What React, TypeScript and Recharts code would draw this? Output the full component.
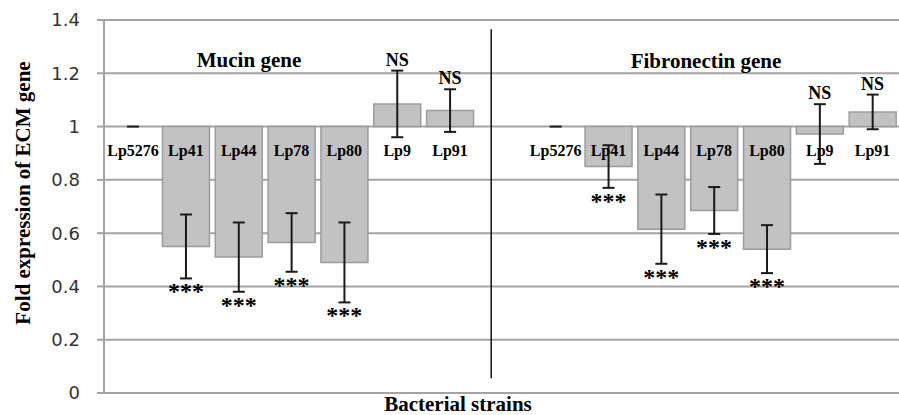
import {
  ComposedChart,
  Bar,
  ErrorBar,
  Scatter,
  XAxis,
  YAxis,
  CartesianGrid,
  ReferenceLine
} from 'recharts';

const strains = ['Lp5276', 'Lp41', 'Lp44', 'Lp78', 'Lp80', 'Lp9', 'Lp91'];
const mucinFold = [1, 0.55, 0.51, 0.565, 0.49, 1.085, 1.06];
const mucinErr = [0, 0.12, 0.13, 0.11, 0.15, 0.125, 0.08];
const mucinSig = ['', '***', '***', '***', '***', 'NS', 'NS'];
const fibroFold = [1, 0.85, 0.615, 0.685, 0.54, 0.972, 1.055];
const fibroErr = [0, 0.08, 0.13, 0.088, 0.09, 0.112, 0.065];
const fibroSig = ['', '***', '***', '***', '***', 'NS', 'NS'];
const yTicks = [0, 0.2, 0.4, 0.6, 0.8, 1, 1.2, 1.4];
const BASE = 1; // bars grow from fold = 1

// fibronectin block starts after one empty slot
const rows = [
  ...strains.map((s, i) => ({ pos: i, strain: s, fold: mucinFold[i], e: mucinErr[i], sig: mucinSig[i] })),
  ...strains.map((s, i) => ({ pos: i + 8, strain: s, fold: fibroFold[i], e: fibroErr[i], sig: fibroSig[i] }))
].map(r => ({
  ...r,
  range: [BASE, r.fold],
  err: r.e,
  base: BASE,
  lo: r.fold - r.e,
  hi: r.fold + r.e
}));

const serif = '"Liberation Serif", "Times New Roman", serif';

// strain name under the 1.0 line; the control (no error) gets its flat error cap here,
// since recharts skips zero-height bars and zero errors
const StrainLabel = (p: any) => (
  <g>
    {p.payload.e === 0 && p.payload.fold === BASE && (
      <line x1={p.cx - 6} x2={p.cx + 6} y1={p.cy} y2={p.cy} stroke="#1a1a1a" strokeWidth={2} />
    )}
    <text x={p.cx} y={p.cy + 29} textAnchor="middle" fontFamily={serif} fontWeight="bold" fontSize={16} fill="#000">
      {p.payload.strain}
    </text>
  </g>
);

const Stars = (p: any) =>
  p.payload.sig === '***' ? (
    <text x={p.cx} y={p.cy + 21} textAnchor="middle" fontFamily={serif} fontWeight="bold" fontSize={24} fill="#000">
      ***
    </text>
  ) : <g />;

const NotSig = (p: any) =>
  p.payload.sig === 'NS' ? (
    <text x={p.cx} y={p.cy - 5} textAnchor="middle" fontFamily={serif} fontWeight="bold" fontSize={18} fill="#000">
      NS
    </text>
  ) : <g />;

export default function App() {
  return (
    <div style={{ position: 'absolute', left: 0, top: 0, width: 899, height: 415, background: '#fff' }}>
      <ComposedChart
        width={899}
        height={415}
        data={rows}
        margin={{ top: 20, right: 0, bottom: 22, left: 0 }}
      >
        <CartesianGrid vertical={false} stroke="#a3a3a3" strokeWidth={2} />
        <XAxis type="number" dataKey="pos" domain={[-0.55, 14.5]} hide />
        <YAxis
          domain={[0, 1.4]}
          ticks={yTicks}
          width={104}
          axisLine={{ stroke: '#a3a3a3', strokeWidth: 2 }}
          tickLine={{ stroke: '#a3a3a3', strokeWidth: 2 }}
          tickSize={7}
          tickMargin={17}
          tick={{ fill: '#333', fontSize: 18, fontFamily: '"DejaVu Sans", sans-serif' }}
        />
        <Bar dataKey="range" barSize={47} fill="#c2c2c2" stroke="#9c9c9c" strokeWidth={1.5} isAnimationActive={false}>
          <ErrorBar dataKey="err" direction="y" width={6} stroke="#1a1a1a" strokeWidth={2} isAnimationActive={false} />
        </Bar>
        <ReferenceLine
          segment={[{ x: 6.78, y: 0.055 }, { x: 6.78, y: 1.365 }]}
          stroke="#111"
          strokeWidth={1.5}
        />
        <Scatter dataKey="base" shape={StrainLabel} isAnimationActive={false} />
        <Scatter dataKey="lo" shape={Stars} isAnimationActive={false} />
        <Scatter dataKey="hi" shape={NotSig} isAnimationActive={false} />
      </ComposedChart>
      <svg width={899} height={415} style={{ position: 'absolute', left: 0, top: 0, pointerEvents: 'none' }}>
        <text x={249} y={67} textAnchor="middle" fontFamily={serif} fontWeight="bold" fontSize={21}>Mucin gene</text>
        <text x={706} y={68} textAnchor="middle" fontFamily={serif} fontWeight="bold" fontSize={21}>Fibronectin gene</text>
        <text x={458} y={411} textAnchor="middle" fontFamily={serif} fontWeight="bold" fontSize={21}>Bacterial strains</text>
        <text
          transform="translate(30,193) rotate(-90)"
          textAnchor="middle"
          fontFamily={serif}
          fontWeight="bold"
          fontSize={21}
        >
          Fold expression of ECM gene
        </text>
      </svg>
    </div>
  );
}
